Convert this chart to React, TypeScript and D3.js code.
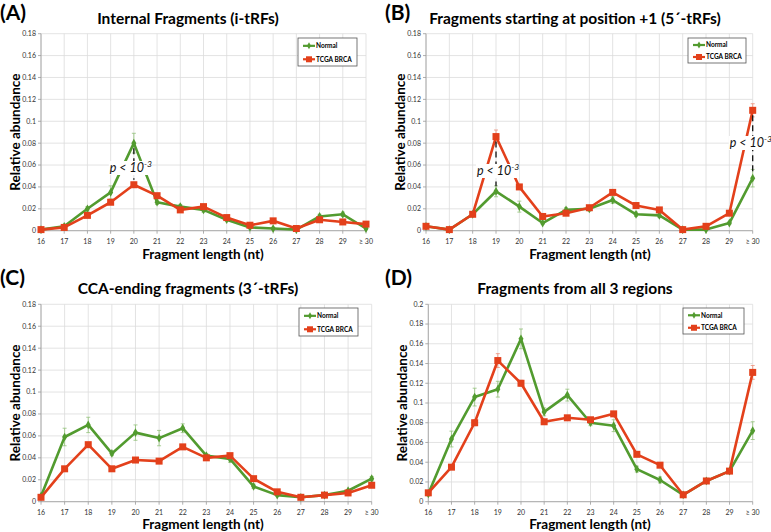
import React from "react";
import * as d3 from "d3";

const categories = ["16", "17", "18", "19", "20", "21", "22", "23", "24", "25", "26", "27", "28", "29", "≥ 30"];

// (A) internal fragments
const iNormal = [0.001, 0.004, 0.02, 0.035, 0.08, 0.026, 0.022, 0.019, 0.01, 0.003, 0.002, 0.001, 0.013, 0.015, 0.002];
const iNormalErr = [0.001, 0.001, 0.002, 0.006, 0.009, 0.002, 0.002, 0.002, 0.001, 0.001, 0.001, 0.001, 0.002, 0.002, 0.001];
const iTcga = [0.001, 0.003, 0.014, 0.026, 0.042, 0.032, 0.019, 0.022, 0.012, 0.005, 0.009, 0.002, 0.01, 0.008, 0.006];
const iTcgaErr = [0.001, 0.001, 0.001, 0.002, 0.002, 0.002, 0.002, 0.002, 0.001, 0.001, 0.001, 0.001, 0.001, 0.001, 0.001];

// (B) 5'-tRFs
const fiveNormal = [0.004, 0.001, 0.015, 0.036, 0.022, 0.007, 0.019, 0.02, 0.028, 0.015, 0.014, 0.001, 0.001, 0.007, 0.048];
const fiveNormalErr = [0.001, 0.001, 0.001, 0.005, 0.005, 0.001, 0.002, 0.002, 0.003, 0.002, 0.002, 0.001, 0.001, 0.001, 0.008];
const fiveTcga = [0.004, 0.001, 0.015, 0.086, 0.04, 0.013, 0.016, 0.021, 0.035, 0.023, 0.019, 0.001, 0.004, 0.016, 0.11];
const fiveTcgaErr = [0.001, 0.001, 0.001, 0.006, 0.002, 0.001, 0.001, 0.001, 0.001, 0.001, 0.001, 0.001, 0.001, 0.001, 0.006];

// (C) 3'-tRFs
const threeNormal = [0.005, 0.059, 0.07, 0.044, 0.063, 0.058, 0.067, 0.042, 0.039, 0.014, 0.006, 0.004, 0.006, 0.01, 0.021];
const threeNormalErr = [0.001, 0.008, 0.007, 0.002, 0.007, 0.007, 0.004, 0.002, 0.003, 0.002, 0.001, 0.001, 0.001, 0.001, 0.002];
const threeTcga = [0.004, 0.03, 0.052, 0.03, 0.038, 0.037, 0.05, 0.04, 0.042, 0.021, 0.009, 0.004, 0.006, 0.008, 0.015];
const threeTcgaErr = [0.001, 0.002, 0.002, 0.001, 0.001, 0.001, 0.002, 0.001, 0.001, 0.001, 0.001, 0.001, 0.001, 0.001, 0.001];

// (D) all 3 regions
const allNormal = [0.008, 0.0635, 0.106, 0.114, 0.165, 0.091, 0.108, 0.08, 0.077, 0.033, 0.022, 0.007, 0.021, 0.031, 0.072];
const allNormalErr = [0.002, 0.008, 0.009, 0.008, 0.01, 0.004, 0.006, 0.003, 0.006, 0.003, 0.003, 0.002, 0.002, 0.002, 0.009];
const allTcga = [0.009, 0.035, 0.08, 0.143, 0.12, 0.081, 0.085, 0.083, 0.089, 0.048, 0.037, 0.007, 0.021, 0.031, 0.131];
const allTcgaErr = [0.001, 0.002, 0.003, 0.007, 0.003, 0.002, 0.002, 0.002, 0.002, 0.002, 0.002, 0.001, 0.002, 0.002, 0.007];

const GREEN = "#529b2f";
const RED = "#e3401b";
const GREEN_ERR = "#93c27a";
const RED_ERR = "#ee8f78";
const FONT = "Lato, 'Open Sans', sans-serif";

const panels = [
  {
    letter: "(A)", title: "Internal Fragments (i-tRFs)",
    normal: iNormal, normalErr: iNormalErr, tcga: iTcga, tcgaErr: iTcgaErr,
    left: 41, right: 366, top: 33.7, bottom: 230.7, yMax: 0.18,
    letterX: 0, letterY: 20, titleX: 188, titleY: 24, xLabX: 203, xLabY: 259, yLabX: 20,
    legX: 298, legY: 38, legW: 59, legH: 28,
    notes: [{ cat: 4, from: 0.08, to: 0.042, textY: 172, dx: -24 }],
  },
  {
    letter: "(B)", title: "Fragments starting at position +1 (5\u00b4-tRFs)",
    normal: fiveNormal, normalErr: fiveNormalErr, tcga: fiveTcga, tcgaErr: fiveTcgaErr,
    left: 426, right: 752.7, top: 33.7, bottom: 230.7, yMax: 0.18,
    letterX: 385, letterY: 20, titleX: 575, titleY: 24, xLabX: 590, xLabY: 259, yLabX: 405,
    legX: 688, legY: 38, legW: 58, legH: 25,
    notes: [
      { cat: 3, from: 0.086, to: 0.036, textY: 175, dx: -19 },
      { cat: 14, from: 0.11, to: 0.048, textY: 147, dx: -23 },
    ],
  },
  {
    letter: "(C)", title: "CCA-ending fragments (3\u00b4-tRFs)",
    normal: threeNormal, normalErr: threeNormalErr, tcga: threeTcga, tcgaErr: threeTcgaErr,
    left: 41, right: 371.7, top: 304.3, bottom: 501.7, yMax: 0.18,
    letterX: 0, letterY: 285, titleX: 188, titleY: 294, xLabX: 203, xLabY: 529, yLabX: 20,
    legX: 299, legY: 308, legW: 59, legH: 28,
    notes: [],
  },
  {
    letter: "(D)", title: "Fragments from all 3 regions",
    normal: allNormal, normalErr: allNormalErr, tcga: allTcga, tcgaErr: allTcgaErr,
    left: 428.3, right: 752.7, top: 304.3, bottom: 501.7, yMax: 0.2,
    letterX: 385, letterY: 285, titleX: 575, titleY: 294, xLabX: 590, xLabY: 529, yLabX: 407,
    legX: 683, legY: 308, legW: 61, legH: 26,
    notes: [],
  },
];

const fmt = (v: number) => (v === 0 ? "0" : String(+v.toFixed(2)));

function Panel({ p }: { p: any }) {
  const x = d3.scalePoint<string>().domain(categories).range([p.left, p.right]);
  const y = d3.scaleLinear().domain([0, p.yMax]).range([p.bottom, p.top]);
  const ticks = d3.range(0, p.yMax + 0.0001, 0.02);
  const line = d3
    .line<number>()
    .x((_, i) => x(categories[i])!)
    .y((d) => y(d));

  const errBars = (vals: number[], errs: number[], color: string) =>
    vals.map((v, i) => {
      const cx = x(categories[i])!;
      const y1 = y(v + errs[i]);
      const y2 = y(Math.max(0, v - errs[i]));
      return (
        <g key={i} stroke={color} strokeWidth={0.8}>
          <line x1={cx} x2={cx} y1={y1} y2={y2} />
          <line x1={cx - 2} x2={cx + 2} y1={y1} y2={y1} />
          <line x1={cx - 2} x2={cx + 2} y1={y2} y2={y2} />
        </g>
      );
    });

  return (
    <g fontFamily={FONT}>
      <text x={p.letterX} y={p.letterY} fontSize={21} fontWeight={700} fill="#000">{p.letter}</text>
      <text x={p.titleX} y={p.titleY} fontSize={15.5} fontWeight={700} textAnchor="middle" fill="#000">{p.title}</text>

      {ticks.map((t: number) => (
        <line key={"h" + t} x1={p.left} x2={p.right} y1={y(t)} y2={y(t)} stroke="#dcdcdc" strokeWidth={0.8} />
      ))}
      {categories.map((c) => (
        <line key={"v" + c} x1={x(c)} x2={x(c)} y1={p.top} y2={p.bottom} stroke="#dcdcdc" strokeWidth={0.8} />
      ))}
      <line x1={p.left} x2={p.left} y1={p.top} y2={p.bottom} stroke="#9a9a9a" strokeWidth={0.8} />
      <line x1={p.left} x2={p.right} y1={p.bottom} y2={p.bottom} stroke="#9a9a9a" strokeWidth={0.8} />
      {ticks.map((t: number) => (
        <g key={"t" + t}>
          <line x1={p.left - 3} x2={p.left} y1={y(t)} y2={y(t)} stroke="#9a9a9a" strokeWidth={0.8} />
          <text x={p.left - 5} y={y(t) + 2.4} fontSize={7} textAnchor="end" fill="#333">{fmt(t)}</text>
        </g>
      ))}
      {categories.map((c) => (
        <g key={"x" + c}>
          <line x1={x(c)} x2={x(c)} y1={p.bottom} y2={p.bottom + 3} stroke="#9a9a9a" strokeWidth={0.8} />
          <text x={x(c)} y={p.bottom + 13} fontSize={7} textAnchor="middle" fill="#333">{c}</text>
        </g>
      ))}

      <text x={p.xLabX} y={p.xLabY} fontSize={13.5} fontWeight={700} textAnchor="middle" fill="#000">Fragment length (nt)</text>
      <text transform={`translate(${p.yLabX},${(p.top + p.bottom) / 2}) rotate(-90)`} fontSize={13.5} fontWeight={700} textAnchor="middle" fill="#000">Relative abundance</text>

      {errBars(p.normal, p.normalErr, GREEN_ERR)}
      {errBars(p.tcga, p.tcgaErr, RED_ERR)}
      <path d={line(p.normal)!} fill="none" stroke={GREEN} strokeWidth={2.6} strokeLinejoin="round" />
      <path d={line(p.tcga)!} fill="none" stroke={RED} strokeWidth={2.6} strokeLinejoin="round" />
      {p.normal.map((v: number, i: number) => (
        <path key={"n" + i} d={d3.symbol(d3.symbolDiamond, 22)()!} transform={`translate(${x(categories[i])},${y(v)})`} fill={GREEN} />
      ))}
      {p.tcga.map((v: number, i: number) => (
        <rect key={"r" + i} x={x(categories[i])! - 3.5} y={y(v) - 3.5} width={7} height={7} fill={RED} />
      ))}

      {p.notes.map((n: any, k: number) => {
        const cx = x(categories[n.cat])!;
        return (
          <g key={"note" + k}>
            <line x1={cx} x2={cx} y1={y(n.from) + 5} y2={y(n.to) - 5} stroke="#111" strokeWidth={1.3} strokeDasharray="6,4" />
            <rect x={cx + n.dx - 1} y={n.textY - 11} width={43} height={14} fill="#fff" />
            <text x={cx + n.dx} y={n.textY} fontSize={12.5} fontStyle="italic" fill="#111">
              p &lt; 10<tspan dy={-5} fontSize={8.5}>-3</tspan>
            </text>
          </g>
        );
      })}

      <rect x={p.legX} y={p.legY} width={p.legW} height={p.legH} fill="#fff" stroke="#555" strokeWidth={0.8} />
      {[{ name: "Normal", color: GREEN, sq: false }, { name: "TCGA BRCA", color: RED, sq: true }].map((s, i) => {
        const ly = p.legY + p.legH * (i === 0 ? 0.28 : 0.76);
        const lx = p.legX + 5;
        return (
          <g key={s.name}>
            <line x1={lx} x2={lx + 12} y1={ly} y2={ly} stroke={s.color} strokeWidth={2.2} />
            {s.sq ? (
              <rect x={lx + 3} y={ly - 3} width={6} height={6} fill={s.color} />
            ) : (
              <path d={d3.symbol(d3.symbolDiamond, 14)()!} transform={`translate(${lx + 6},${ly})`} fill={s.color} />
            )}
            <text x={lx + 13} y={ly + 2.3} fontSize={6.5} fontWeight={700} fill="#000">{s.name}</text>
          </g>
        );
      })}
    </g>
  );
}

export default function App() {
  return (
    <div style={{ position: "absolute", left: 0, top: 0 }}>
      <svg width={771} height={532} style={{ display: "block", background: "#fff" }}>
        {panels.map((p) => (
          <Panel key={p.letter} p={p} />
        ))}
      </svg>
    </div>
  );
}
